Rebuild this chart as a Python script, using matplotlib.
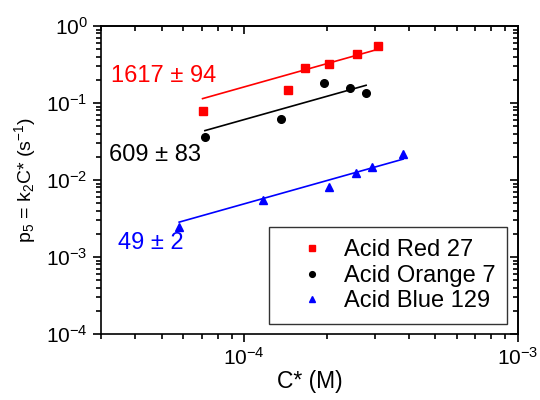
import numpy as np
import matplotlib.pyplot as plt
from matplotlib.ticker import LogLocator, NullFormatter

plt.rcParams['font.family'] = ['Liberation Sans', 'DejaVu Sans']
plt.rcParams['mathtext.fontset'] = 'custom'
plt.rcParams['mathtext.rm'] = 'Liberation Sans'
plt.rcParams['mathtext.it'] = 'Liberation Sans'
plt.rcParams['axes.unicode_minus'] = False

# C* (M) and p5 (1/s) for each dye
red_c = [7.05e-5, 1.45e-4, 1.67e-4, 2.05e-4, 2.59e-4, 3.09e-4]
red_p = [0.078, 0.148, 0.282, 0.321, 0.433, 0.545]
orange_c = [7.19e-5, 1.36e-4, 1.95e-4, 2.44e-4, 2.79e-4]
orange_p = [0.0365, 0.062, 0.182, 0.157, 0.135]
blue_c = [5.79e-5, 1.176e-4, 2.04e-4, 2.56e-4, 2.94e-4, 3.81e-4]
blue_p = [0.00248, 0.0055, 0.0082, 0.0122, 0.0149, 0.0216]

# fitted k2 (M^-1 s^-1) and its error
k2 = [1617, 609, 49]
k2_err = [94, 83, 2]
names = ['Acid Red 27', 'Acid Orange 7', 'Acid Blue 129']
colors = ['#ff0000', 'black', '#0000ff']
markers = ['s', 'o', '^']

fig = plt.figure(figsize=(5.4, 4), dpi=100)
ax = fig.add_axes([0.187, 0.165, 0.772, 0.770])

sets = [(red_c, red_p), (orange_c, orange_p), (blue_c, blue_p)]
for (c, p), k, col, m, nm in zip(sets, k2, colors, markers, names):
    ax.plot(c, p, linestyle='none', marker=m, color=col, markersize=5.5 if m != '^' else 6,
            label=nm, zorder=3)
    cc = np.array([min(c), max(c)])
    ax.plot(cc, k * cc, color=col, lw=1.2, zorder=2)

ax.set_xscale('log')
ax.set_yscale('log')
ax.set_xlim(3e-5, 1e-3)
ax.set_ylim(1e-4, 1)

# labels with the fitted k2 values
text_pos = [(3.27e-5, 0.221), (3.2e-5, 0.0211), (3.45e-5, 0.00152)]
for (tx, ty), k, e, col in zip(text_pos, k2, k2_err, colors):
    ax.text(tx, ty, f'{k} \u00b1 {e}', color=col, fontsize=17, va='center', ha='left')

ax.set_xlabel('C* (M)', fontsize=16.5, labelpad=1)
ax.set_ylabel('p$_5$ = k$_2$C* (s$^{-1}$)', fontsize=14, labelpad=6)

decade_minor = np.arange(2, 10) * 0.1

ax.xaxis.set_minor_locator(LogLocator(base=10, subs=decade_minor, numticks=100))
ax.yaxis.set_minor_locator(LogLocator(base=10, subs=decade_minor, numticks=100))
ax.xaxis.set_minor_formatter(NullFormatter())
ax.yaxis.set_minor_formatter(NullFormatter())
ax.tick_params(which='both', direction='out', width=1.2, color='black', labelsize=15)
ax.tick_params(which='major', length=6)
ax.tick_params(which='minor', length=3.5)
for s in ax.spines.values():
    s.set_linewidth(1.2)

# mirrored ticks on top and right, pointing inward
top = ax.secondary_xaxis('top')
right = ax.secondary_yaxis('right')
top.xaxis.set_minor_locator(LogLocator(base=10, subs=decade_minor, numticks=100))
right.yaxis.set_minor_locator(LogLocator(base=10, subs=decade_minor, numticks=100))
top.tick_params(which='both', direction='in', width=1.2, color='black', labeltop=False)
right.tick_params(which='both', direction='in', width=1.2, color='black', labelright=False)
for a in (top, right):
    a.tick_params(which='major', length=6)
    a.tick_params(which='minor', length=3.5)
top.spines['top'].set_linewidth(1.2)
right.spines['right'].set_linewidth(1.2)

leg = ax.legend(loc='lower right', bbox_to_anchor=(0.974, 0.032), fontsize=17,
                frameon=True, fancybox=False, edgecolor='black', markerscale=0.75,
                handletextpad=0.05, borderpad=0.5, labelspacing=0.15,
                handlelength=2.6, borderaxespad=0)
leg.get_frame().set_linewidth(1)
leg.set_zorder(5)

fig.savefig('out.png', dpi=100)
